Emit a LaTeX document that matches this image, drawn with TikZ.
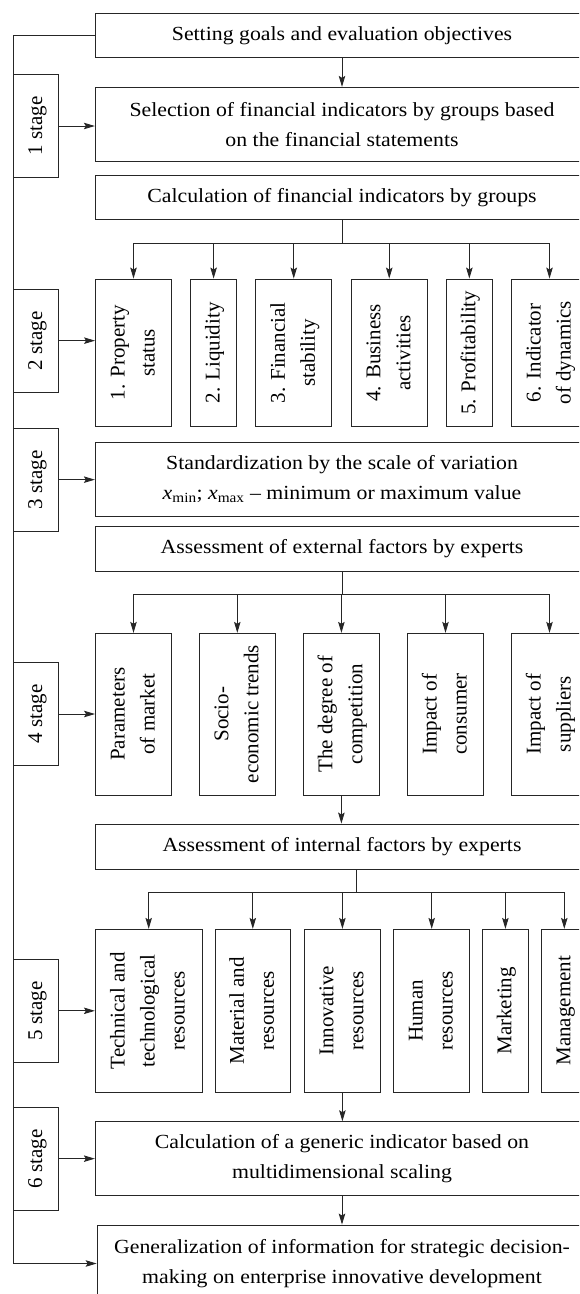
\documentclass[tikz,border=0pt]{standalone}
\usepackage{fontspec}
\usepackage{graphicx}
\setmainfont{Liberation Serif}[FakeStretch=1.09]
\newfontfamily\rotfont{Liberation Serif}
\usetikzlibrary{arrows.meta}
\newcommand{\vtxt}[1]{\rotatebox{90}{\rotfont\fontsize{21}{30}\selectfont\begin{tabular}{@{}c@{}}#1\end{tabular}}}
\begin{document}
\begin{tikzpicture}[x=1pt,y=-1pt,
  ln/.style={line width=0.9pt, draw=black!85},
  arr/.style={ln, -{Stealth[length=11pt,width=6.5pt,inset=2pt]}},
  wbox/.style={ln, rectangle, inner sep=0pt, minimum width=493.4pt, align=center,
    font=\fontsize{20}{30}\selectfont},
  vbox/.style={ln, rectangle, inner sep=0pt},
  stagebox/.style={ln, rectangle, inner sep=0pt, minimum width=44.6pt, minimum height=103pt}]
\useasboundingbox (0,0) rectangle (579,1294);
\clip (0,0) rectangle (579,1294);
\coordinate (L) at (13.7,0);
% wide boxes
\node[wbox, minimum height=44.4pt] (b1) at (342,35.5) {Setting goals and evaluation objectives};
\node[wbox, minimum height=73.7pt] (b2) at (342,124.15) {Selection of financial indicators by groups based\\on the financial statements};
\node[wbox, minimum height=44.3pt] (b3) at (342,197.15) {Calculation of financial indicators by groups};
% financial groups
\node[vbox, minimum width=76pt, minimum height=147.7pt] (f1) at (133.5,352.85) {\vtxt{1. Property\\status}};
\node[vbox, minimum width=45.5pt, minimum height=147.7pt] (f2) at (213.6,352.85) {\vtxt{2. Liquidity}};
\node[vbox, minimum width=76pt, minimum height=147.7pt] (f3) at (293.75,352.85) {\vtxt{3. Financial\\stability}};
\node[vbox, minimum width=76pt, minimum height=147.7pt] (f4) at (389.25,352.85) {\vtxt{4. Business\\activities}};
\node[vbox, minimum width=45.5pt, minimum height=147.7pt] (f5) at (469.35,352.85) {\vtxt{5. Profitability}};
\node[vbox, minimum width=76pt, minimum height=147.7pt] (f6) at (549.5,352.85) {\vtxt{6. Indicator\\of dynamics}};
\node[wbox, minimum height=73.3pt] (b4) at (342,479.35) {Standardization by the scale of variation\\\textit{x}\textsubscript{min}; \textit{x}\textsubscript{max} -- minimum or maximum value};
\node[wbox, minimum height=44.3pt] (b5) at (342,548.85) {Assessment of external factors by experts};
% external factors
\node[vbox, minimum width=76pt, minimum height=161.7pt] (e1) at (133.5,714.15) {\vtxt{Parameters\\of market}};
\node[vbox, minimum width=76pt, minimum height=161.7pt] (e2) at (237.3,714.15) {\vtxt{Socio-\\economic trends}};
\node[vbox, minimum width=76pt, minimum height=161.7pt] (e3) at (341.4,714.15) {\vtxt{The degree of\\competition}};
\node[vbox, minimum width=76pt, minimum height=161.7pt] (e4) at (445.5,714.15) {\vtxt{Impact of\\consumer}};
\node[vbox, minimum width=76pt, minimum height=161.7pt] (e5) at (549.5,714.15) {\vtxt{Impact of\\suppliers}};
\node[wbox, minimum height=45.3pt] (b6) at (342,846.65) {Assessment of internal factors by experts};
% internal factors
\node[vbox, minimum width=106.7pt, minimum height=163pt] (i1) at (148.7,1010.8) {\vtxt{Technical and\\technological\\resources}};
\node[vbox, minimum width=75.7pt, minimum height=163pt] (i2) at (252.8,1010.8) {\vtxt{Material and\\resources}};
\node[vbox, minimum width=76pt, minimum height=163pt] (i3) at (342.4,1010.8) {\vtxt{Innovative\\resources}};
\node[vbox, minimum width=76pt, minimum height=163pt] (i4) at (431.7,1010.8) {\vtxt{Human\\resources}};
\node[vbox, minimum width=45.5pt, minimum height=163pt] (i5) at (505.4,1010.8) {\vtxt{Marketing}};
\node[vbox, minimum width=45.5pt, minimum height=163pt] (i6) at (564.3,1010.8) {\vtxt{Management}};
\node[wbox, minimum height=73.3pt] (b7) at (342,1158.35) {Calculation of a generic indicator based on\\multidimensional scaling};
\node[wbox, minimum width=489.8pt, minimum height=77pt] (b8) at (342,1263.5) {Generalization of information for strategic decision-\\making on enterprise innovative development};
% stages
\node[stagebox] (s1) at (36,126) {\vtxt{1 stage}};
\node[stagebox] (s2) at (36,340.65) {\vtxt{2 stage}};
\node[stagebox] (s3) at (36,479.65) {\vtxt{3 stage}};
\node[stagebox] (s4) at (36,714) {\vtxt{4 stage}};
\node[stagebox] (s5) at (36,1010.8) {\vtxt{5 stage}};
\node[stagebox] (s6) at (36,1158.65) {\vtxt{6 stage}};
% stage arrows
\draw[arr] (s1.east) -- (s1.east -| b2.west);
\draw[arr] (s2.east) -- (s2.east -| f1.west);
\draw[arr] (s3.east) -- (s3.east -| b4.west);
\draw[arr] (s4.east) -- (s4.east -| e1.west);
\draw[arr] (s5.east) -- (s5.east -| i1.west);
\draw[arr] (s6.east) -- (s6.east -| b7.west);
% left feedback line
\draw[arr] (b1.west) -- (b1.west -| L) -- (L |- b8.west) -- (b8.west);
% vertical flow
\draw[arr] (b1.south) -- (b2.north);
\draw[arr] (e3.south) -- (e3.south |- b6.north);
\draw[arr] (i3.south) -- (i3.south |- b7.north);
\draw[arr] (b7.south) -- (b8.north);
% fan-out 1
\coordinate (J1) at (342,243.3);
\draw[ln] (b3.south) -- (J1);
\draw[ln] (f1.north |- J1) -- (f6.north |- J1);
\foreach \n in {f1,f2,f3,f4,f5,f6} \draw[arr] (\n.north |- J1) -- (\n.north);
% fan-out 2
\coordinate (J2) at (342,594.3);
\draw[ln] (b5.south) -- (J2);
\draw[ln] (e1.north |- J2) -- (e5.north |- J2);
\foreach \n in {e1,e2,e3,e4,e5} \draw[arr] (\n.north |- J2) -- (\n.north);
% fan-out 3
\coordinate (J3) at (356.4,892.3);
\draw[ln] (b6.south -| J3) -- (J3);
\draw[ln] (i1.north |- J3) -- (i6.north |- J3);
\foreach \n in {i1,i2,i3,i4,i5,i6} \draw[arr] (\n.north |- J3) -- (\n.north);
\end{tikzpicture}
\end{document}
